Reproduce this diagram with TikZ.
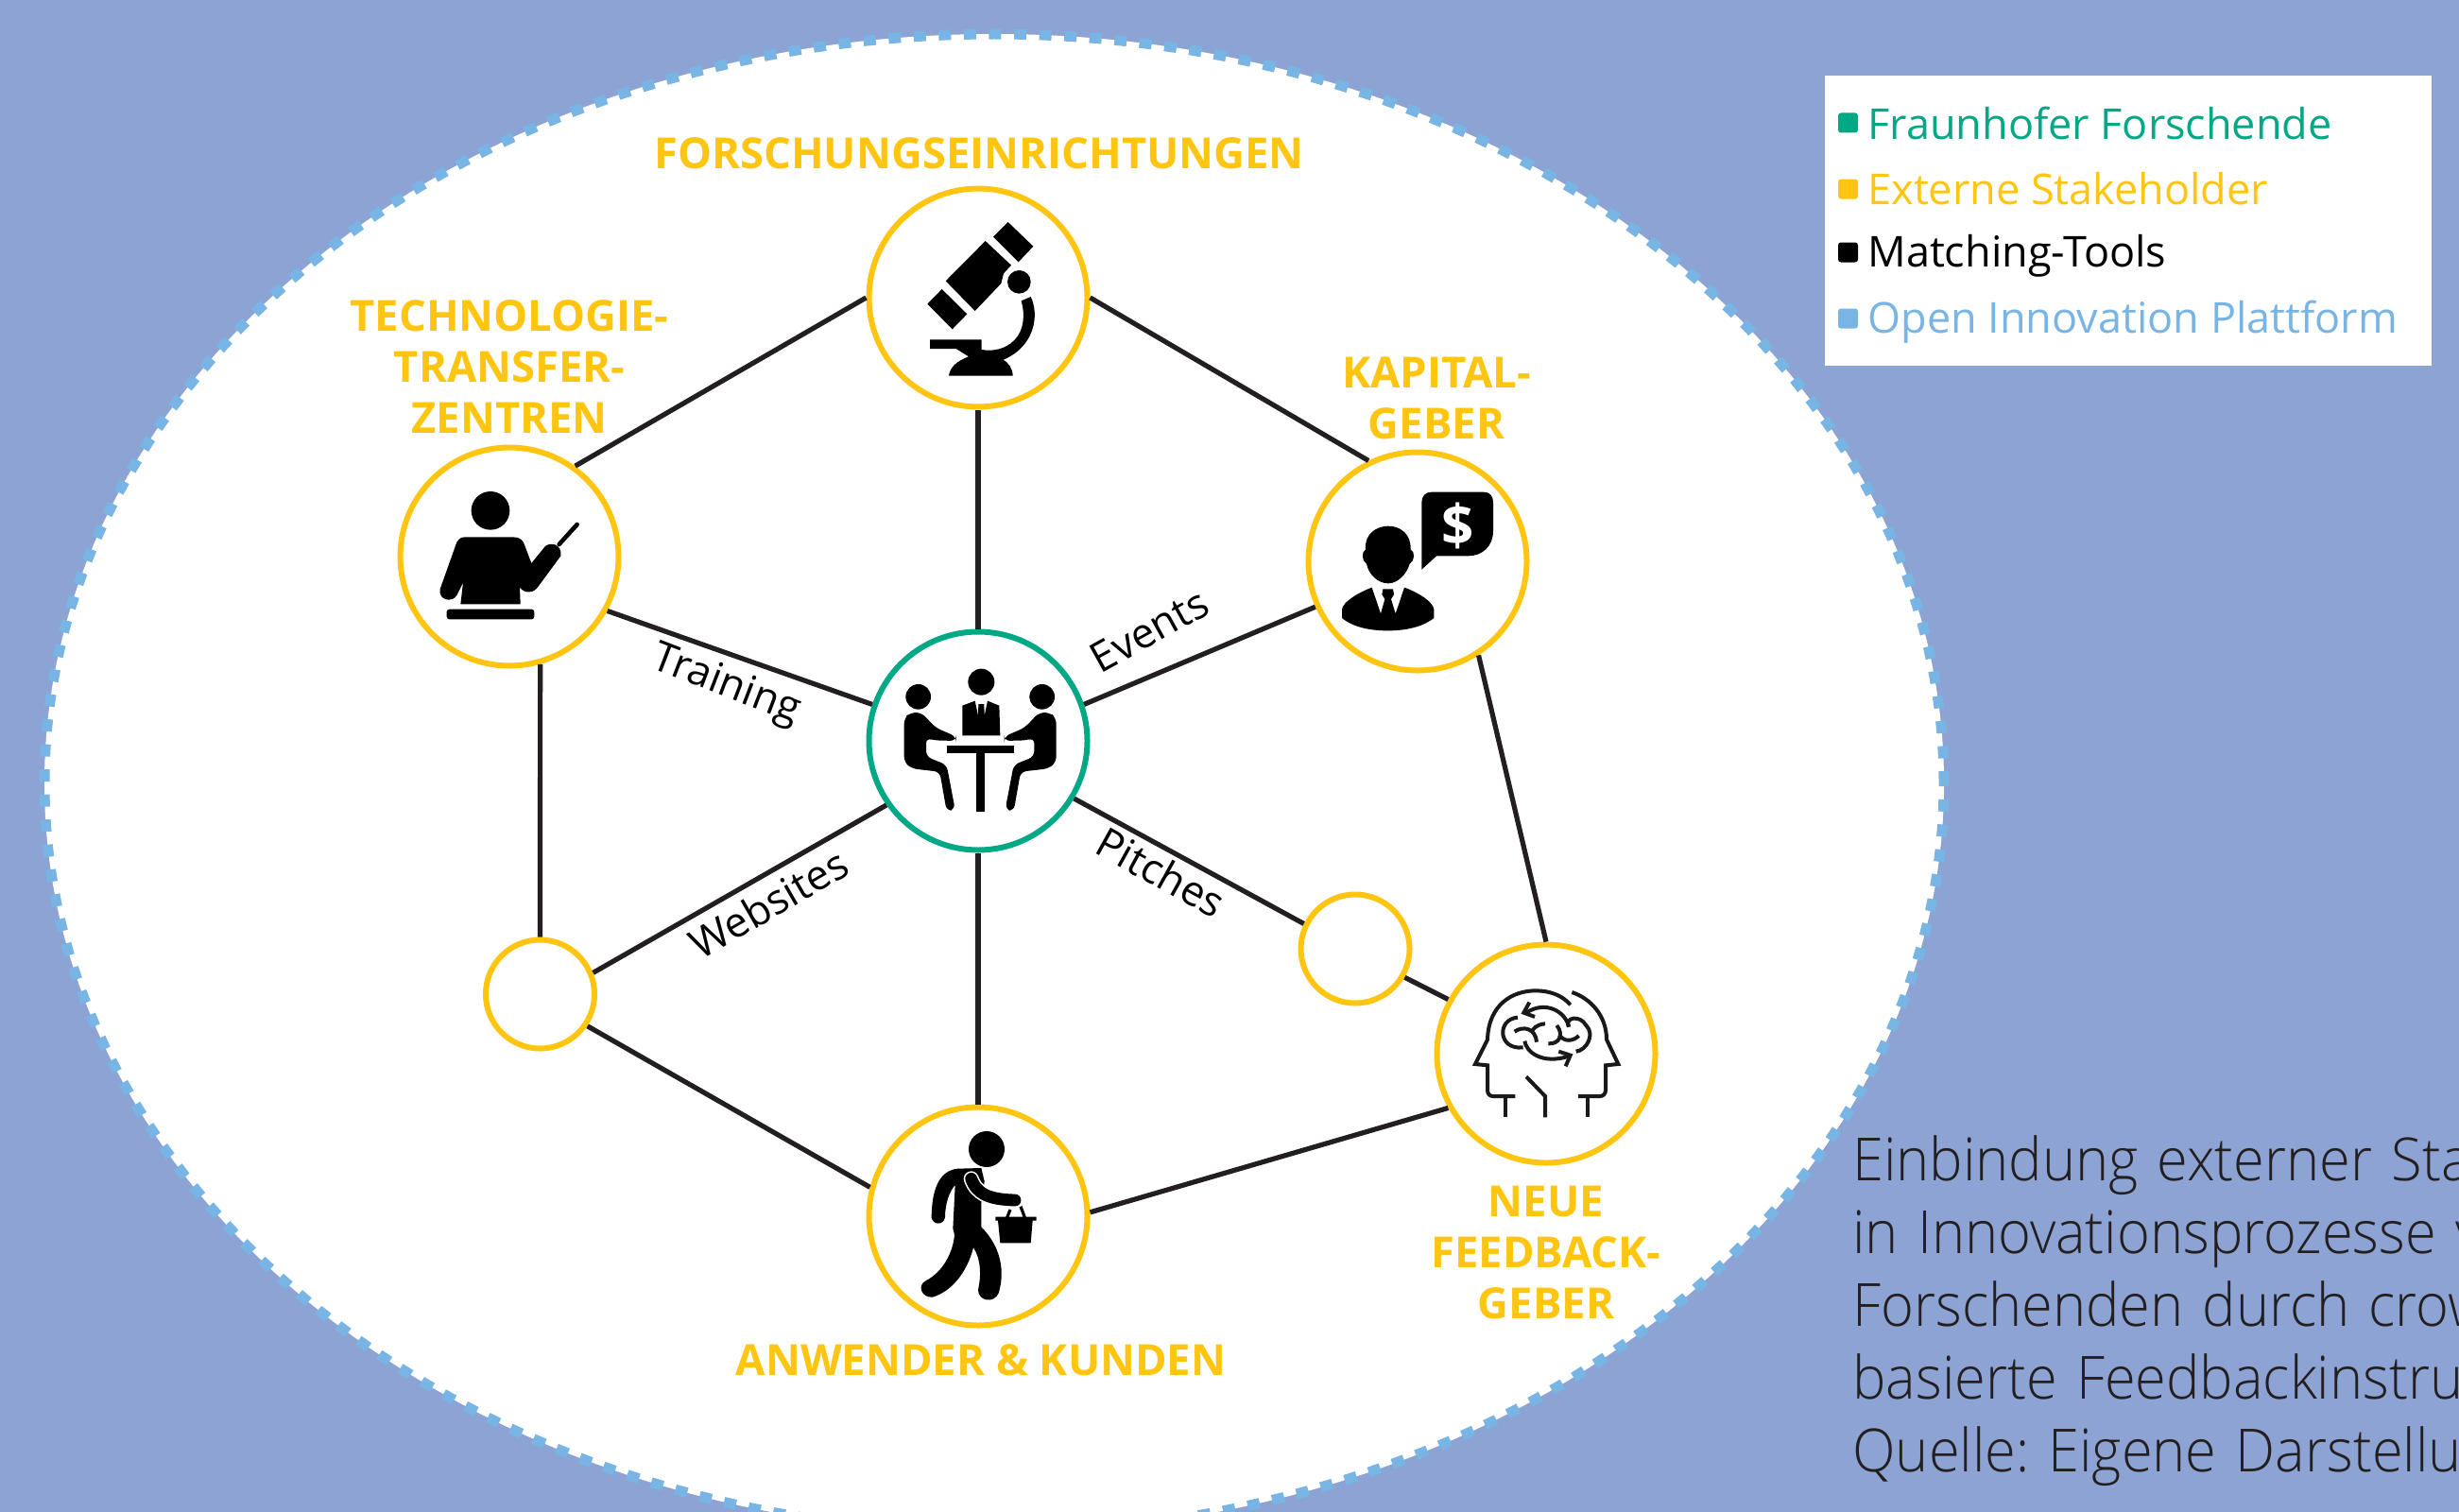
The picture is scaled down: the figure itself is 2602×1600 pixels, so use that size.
\documentclass[tikz,border=0pt]{standalone}
\usepackage{fontspec}
\setmainfont{Open Sans}
\newfontfamily\lightfont[FakeStretch=0.945,WordSpace=1.3]{Open Sans Light}
\usepackage{tikz}
\usetikzlibrary{shapes.geometric,positioning}
\usepackage{xcolor}
\definecolor{fhbackdrop}{RGB}{140,163,211}
\definecolor{fhyellow}{RGB}{255,197,16}
\definecolor{fhgreen}{RGB}{0,168,133}
\definecolor{fhblue}{RGB}{120,181,229}
\definecolor{fhink}{RGB}{35,31,32}
\tikzstyle{stakeholder} = [circle, minimum size=115.5pt, inner sep=0pt, draw=fhyellow, fill=white, line width=3pt]
\tikzstyle{hubnode} = [stakeholder, draw=fhgreen]
\tikzstyle{spare} = [stakeholder, minimum size=57.5pt]
\tikzstyle{tie} = [line width=2.6pt, color=fhink]
\tikzstyle{toollabel} = [inner sep=0pt, font=\fontsize{22}{26}\selectfont, color=black]
\tikzstyle{grouplabel} = [inner sep=0pt, align=center, color=fhyellow, font=\fontsize{22.7}{27}\selectfont\bfseries]
\tikzstyle{legendtext} = [inner sep=0pt, anchor=base west, font=\fontsize{22.5}{27}\selectfont]
\tikzstyle{legendmark} = [rectangle, rounded corners=1.5pt, minimum size=10.5pt, inner sep=0pt]
\tikzstyle{captionline} = [inner sep=0pt, anchor=base west, color=fhink, font=\fontsize{31.5}{38}\lightfont\frenchspacing]
\tikzstyle{icon} = [x=0.16667pt, y=-0.16667pt]
\tikzstyle{brainline} = [line width=2pt, color=black!90, line cap=butt]

\begin{document}
\begin{tikzpicture}[x=0.5pt, y=-0.5pt]
\useasboundingbox (0,0) rectangle (2602,1600);
\fill[fhbackdrop] (0,0) rectangle (2602,1600);

% platform
\node (platform) at (1052,829) [ellipse, minimum width=1005pt, minimum height=793pt, inner sep=0pt, fill=white, draw=fhblue, line width=5.5pt, dash pattern=on 6.5pt off 6.8pt] {};

% circles
\node (hub) at (1035,784) [hubnode] {};
\node (research) [stakeholder, above of=hub, node distance=234.5pt] {};
\node (customers) [stakeholder, below of=hub, node distance=251.5pt] {};
\node (transfer) at (539,589) [stakeholder] {};
\node (investors) at (1500,594) [stakeholder] {};
\node (feedback) at (1636,1115) [stakeholder] {};
\node (spareleft) at (571.5,1052) [spare] {};
\node (spareright) at (1434,1004) [spare] {};

% connectors
\draw[tie] (research.west) -- (transfer.54);
\draw[tie] (research.east) -- (investors.116);
\draw[tie] (research.south) -- (hub.north);
\draw[tie] (hub.south) -- (customers.north);
\draw[tie] (transfer.-29) -- (hub.161);
\draw[tie] (investors.204) -- (hub.19);
\draw[tie] (hub.215) -- (spareleft.22);
\draw[tie] (hub.-31) -- (spareright.154);
\draw[tie] (spareright.-30) -- (feedback.151);
\draw[tie] (transfer.-74) -- (spareleft.north);
\draw[tie] (spareleft.-34) -- (customers.165);
\draw[tie] (customers.2) -- (feedback.209);
\draw[tie] (investors.-57) -- (feedback.north);

% tool labels
\node (training) at (768,726) [toollabel, rotate=-21] {Training};
\node (events) at (1216,667) [toollabel, rotate=29] {Events};
\node (websites) at (813,956) [toollabel, rotate=30] {Websites};
\node (pitches) at (1229,923) [toollabel, rotate=-29] {Pitches};

% group labels
\node (researchtext) at (1036,178) [grouplabel, anchor=base] {FORSCHUNGSEINRICHTUNGEN};
\node (transfertext) at (539,388) [grouplabel] {TECHNOLOGIE-\\TRANSFER-\\ZENTREN};
\node (investortext) at (1520,421) [grouplabel] {KAPITAL-\\GEBER};
\node (feedbacktext) at (1636,1326) [grouplabel] {NEUE\\FEEDBACK-\\GEBER};
\node (customertext) at (1038,1455) [grouplabel, anchor=base] {ANWENDER \& KUNDEN};

% legend
\node (legend) at (2252,233.5) [rectangle, fill=white, minimum width=321pt, minimum height=153.5pt, inner sep=0pt] {};
\node (markgreen) at (1955.5,130) [legendmark, fill=fhgreen] {};
\node (markyellow) at (1955.5,200) [legendmark, fill=fhyellow] {};
\node (markblack) at (1955.5,267) [legendmark, fill=black] {};
\node (markblue) at (1955.5,337) [legendmark, fill=fhblue] {};
\node (textgreen) at (1976,147.5) [legendtext, color=fhgreen] {Fraunhofer Forschende};
\node (textyellow) at (1976,216.5) [legendtext, color=fhyellow] {Externe Stakeholder};
\node (textblack) at (1976,282) [legendtext, color=black] {Matching-Tools};
\node (textblue) at (1976,352) [legendtext, color=fhblue] {Open Innovation Plattform};

% caption, cut by the page edge
\node (captiona) at (1960,1249.5) [captionline] {Einbindung externer Sta};
\node (captionb) at (1960,1326.5) [captionline] {in Innovationsprozesse v};
\node (captionc) at (1960,1403.5) [captionline] {Forschenden durch crow};
\node (captiond) at (1960,1480.5) [captionline] {basierte Feedbackinstru};
\node (captione) at (1960,1557.5) [captionline] {Quelle: Eigene Darstellu};

% microscope
\begin{scope}[shift={(850,170)}, icon]
\fill (650,195) -- (730,272) -- (683,322) -- (603,242) -- cycle;
\fill (578,255) -- (660,332) -- (636,358) -- (628,390) -- (545,477) -- (452,382) -- cycle;
\fill (440,408) -- (520,487) -- (473,535) -- (394,455) -- cycle;
\fill (685,385) circle[radius=37];
\fill (402,568) -- (566,568) -- (566,600) .. controls (600,606) and (640,600) .. (670,570) .. controls (700,540) and (705,490) .. (692,445) -- (722,432) .. controls (750,490) and (735,590) .. (635,632) .. controls (650,640) and (665,660) .. (665,683) -- (462,683) .. controls (465,655) and (490,635) .. (525,622) -- (485,597) -- (402,597) -- cycle;
\end{scope}

% teacher
\begin{scope}[shift={(400,450)}, icon]
\fill (357,271) circle[radius=61];
\fill (275,355) -- (430,355) .. controls (450,355) and (462,365) .. (467,385) -- (487,438) -- (530,385) .. controls (545,370) and (585,375) .. (580,415) -- (510,510) .. controls (495,535) and (465,535) .. (450,515) -- (452,568) -- (262,568) -- (270,500) -- (250,540) .. controls (235,565) and (190,555) .. (197,520) -- (245,385) .. controls (250,365) and (260,355) .. (275,355) -- cycle;
\draw[line width=2.3pt, line cap=round] (575,378) -- (632,315);
\fill[rounded corners=1.5pt] (218,584) rectangle (496,616);
\end{scope}

% investor
\begin{scope}[shift={(1360,450)}, icon]
\fill (433,245) .. controls (433,225) and (445,212) .. (465,212) -- (630,212) .. controls (650,212) and (660,225) .. (660,245) -- (660,335) .. controls (660,385) and (625,415) .. (580,415) -- (480,415) -- (433,458) -- cycle;
\node (dollar) at (547,318) [inner sep=0pt, color=white, font=\fontsize{30}{32}\selectfont\bfseries] {\$};
\fill (255,395) .. controls (250,345) and (290,320) .. (327,320) .. controls (365,320) and (400,345) .. (398,395) .. controls (412,400) and (412,430) .. (395,440) .. controls (385,475) and (355,502) .. (327,502) .. controls (295,502) and (265,475) .. (258,440) .. controls (242,430) and (242,400) .. (255,395) -- cycle;
\fill (275,515) -- (303,598) -- (316,552) -- (307,537) -- (310,520) -- (342,520) -- (345,537) -- (336,552) -- (350,598) -- (378,515) .. controls (420,530) and (470,560) .. (472,585) -- (472,612) .. controls (430,645) and (370,652) .. (325,652) .. controls (280,652) and (220,645) .. (180,612) -- (180,585) .. controls (182,560) and (235,530) .. (275,515) -- cycle;
\end{scope}

% meeting
\begin{scope}[shift={(900,650)}, icon]
\fill (415,215) circle[radius=42];
\fill (355,290) -- (395,275) -- (405,322) -- (406,285) -- (424,285) -- (425,322) -- (435,275) -- (472,290) -- (475,385) -- (355,385) -- cycle;
\fill (215,262) circle[radius=40];
\fill (608,262) circle[radius=40];
\fill[rounded corners=3pt] (170,330) -- (190,312) -- (225,312) -- (270,360) -- (335,388) -- (335,402) -- (262,400) -- (240,392) -- (240,452) -- (305,478) -- (332,620) -- (305,625) -- (283,500) -- (195,490) -- (170,470) -- cycle;
\fill[rounded corners=3pt] (653,330) -- (633,312) -- (598,312) -- (553,360) -- (488,388) -- (488,402) -- (561,400) -- (583,392) -- (583,452) -- (518,478) -- (491,620) -- (518,625) -- (540,500) -- (628,490) -- (653,470) -- cycle;
\fill (305,418) rectangle (520,440);
\fill (400,440) rectangle (425,628);
\end{scope}

% two heads
\begin{scope}[shift={(1500,1020)}, icon, brainline]
\draw (310,420) -- (240,420) .. controls (228,420) and (222,412) .. (222,400) -- (222,322) -- (183,318) -- (222,240) .. controls (225,130) and (300,85) .. (375,85) .. controls (420,85) and (460,100) .. (485,130);
\draw (278,420) -- (278,487);
\draw (490,90) .. controls (550,110) and (600,165) .. (600,240) -- (637,318) -- (597,322) -- (597,400) .. controls (597,412) and (590,420) .. (578,420) -- (510,420);
\draw (540,420) -- (540,487);
\draw (345,358) -- (405,420) -- (405,487);
\draw (318,170) .. controls (250,175) and (255,275) .. (335,265);
\draw (340,245) .. controls (345,280) and (395,320) .. (480,293);
\draw (448,278) -- (485,290) -- (470,325);
\draw (480,200) .. controls (470,150) and (405,115) .. (345,155);
\draw (355,122) -- (337,155) -- (372,168);
\draw (480,200) .. controls (465,170) and (515,160) .. (535,195) .. controls (565,225) and (535,275) .. (503,278);
\draw (308,215) .. controls (335,195) and (375,205) .. (378,248);
\draw (365,210) .. controls (375,195) and (395,190) .. (405,190);
\draw (415,253) .. controls (450,255) and (465,225) .. (442,195);
\draw (450,225) .. controls (465,250) and (495,245) .. (512,228);
\end{scope}

% shopper
\begin{scope}[shift={(900,1160)}, icon]
\fill (432,168) circle[radius=57];
\fill (340,230) .. controls (290,235) and (258,280) .. (257,385) .. controls (262,410) and (295,410) .. (300,385) .. controls (300,340) and (315,300) .. (332,282) -- (325,420) -- (330,440) .. controls (325,500) and (290,560) .. (240,585) .. controls (210,600) and (225,640) .. (260,638) .. controls (320,620) and (370,560) .. (390,480) .. controls (415,520) and (415,570) .. (405,615) .. controls (405,650) and (455,660) .. (470,625) .. controls (490,560) and (480,480) .. (415,415) -- (415,340) -- (425,270) -- (415,228) -- cycle;
\draw[white, line width=8pt, line cap=round] (383,262) .. controls (400,310) and (440,328) .. (522,330);
\draw[line width=6.4pt, line cap=round] (383,262) .. controls (400,310) and (440,328) .. (522,330);
\fill (460,383) -- (590,383) -- (590,395) -- (578,395) -- (572,466) -- (475,466) -- (468,395) -- (460,395) -- cycle;
\draw[line width=1.6pt] (497,385) -- (507,360);
\draw[line width=1.6pt] (553,385) -- (540,350);
\end{scope}
\end{tikzpicture}
\end{document}
